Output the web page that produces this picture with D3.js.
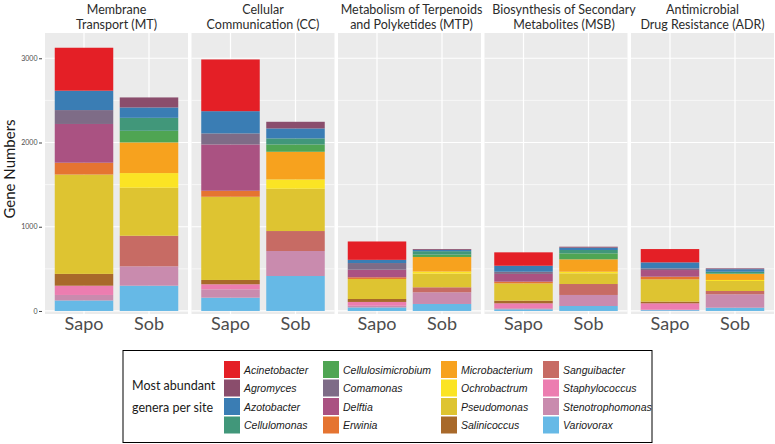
<!DOCTYPE html>
<html>
<head>
  <meta charset="utf-8">
  <title>Gene Numbers by Function</title>
  <style>
    body { margin: 0; background: #fff; }
    svg text { font-family: Lato, "Liberation Sans", sans-serif; }
    .strip { font-size: 12.5px; fill: #2b2b2b; }
    .site { font-size: 18px; fill: #4d4d4d; }
    .ytick text { font-size: 7px; fill: #4d4d4d; }
    .leg-lab { font-family: "Liberation Sans", Arial, sans-serif !important; font-style: italic; font-size: 10.5px; fill: #1a1a1a; }
  </style>
</head>
<body>
<svg id="chart" width="775" height="444"></svg>

<script src="https://cdn.jsdelivr.net/npm/d3@7"></script>
<script>
  // genera, in legend order (first one is drawn on top of the stack)
  var genera = ['Acinetobacter', 'Agromyces', 'Azotobacter', 'Cellulomonas',
    'Cellulosimicrobium', 'Comamonas', 'Delftia', 'Erwinia', 'Microbacterium',
    'Ochrobactrum', 'Pseudomonas', 'Salinicoccus', 'Sanguibacter',
    'Staphylococcus', 'Stenotrophomonas', 'Variovorax'];
  var legendLabels = ['Acinetobacter', 'Agromyces', 'Azotobacter', 'Cellulomonas',
    'Cellulosimicrobium', 'Comamonas', 'Delftia', 'Erwinia', 'Microbacterium',
    'Ochrobactrum', 'Pseudomonas', 'Salinicoccus', 'Sanguibacter',
    'Staphylococcus', 'Stenotrophomonas', 'Variovorax'];
  var colors = ['#e41f26', '#8a4d6c', '#3a7db4', '#41977a', '#4fa553', '#7e6c87',
    '#aa5282', '#e57431', '#f7a21e', '#fbe424', '#dec431', '#a8692a', '#c76b64',
    '#ec7db0', '#c98bae', '#66b9e6'];

  var sites = ['Sapo', 'Sob'];
  var panelTitles = [
    ['Membrane', 'Transport (MT)'],
    ['Cellular', 'Communication (CC)'],
    ['Metabolism of Terpenoids', 'and Polyketides (MTP)'],
    ['Biosynthesis of Secondary', 'Metabolites (MSB)'],
    ['Antimicrobial', 'Drug Resistance (ADR)']
  ];
  var yTicks = [0, 1000, 2000, 3000];

  // gene numbers per genus (same order as genera), one array per panel and site
  //            Aci  Agr  Azo  Cem  Csm  Com  Del  Erw  Mic  Och  Pse   Sal  San  Sta  Ste  Var
  var mtSapo  = [510,   0, 230,   0,   0, 165, 460, 140,   0,   0, 1180, 140,   0, 110,  65, 125];
  var mtSob   = [  0, 119, 123, 154, 138,   0,   0,   0, 364, 174,  570,   0, 363,   0, 230, 300];
  var ccSapo  = [614,   0, 264,   0,   0, 131, 550,  71,   0,   0,  988,  51,   0,  60,  99, 158];
  var ccSob   = [  0,  79, 118,  72,  87,   0,   0,   0, 328, 111,  502,   0, 237,   0, 297, 415];
  var mtpSapo = [218,   0,  38,   0,   0,  79,  90,  20,   0,   0,  238,  35,   0,  45,  20,  42];
  var mtpSob  = [  0,  10,  15,  40,  29,   0,   0,   0, 173,  25,  162,   0,  59,   0, 139,  83];
  var msbSapo = [159,   0,  71,   0,   0,  26,  92,  20,   0,   0,  206,  31,   0,  59,  12,  20];
  var msbSob  = [  0,  12,  27,  40,  71,   0,   0,   0, 147,  19,  127,   0, 130,   0, 131,  59];
  var adrSapo = [158,   0,  71,   0,   0,  20,  79,  31,   0,   0,  265,  20,   0,  76,   5,  10];
  var adrSob  = [  0,  10,  30,  20,   7,   0,   0,   0,  71,  12,  119,   0,  39,   0, 159,  39];

  var panelValues = [
    [mtSapo, mtSob], [ccSapo, ccSob], [mtpSapo, mtpSob],
    [msbSapo, msbSob], [adrSapo, adrSob]
  ];

  var svg = d3.select('#chart');

  var plotLeft = 45, plotRight = 774, panelGap = 3.5;
  var plotTop = 33, plotBottom = 314;
  var panelW = (plotRight - plotLeft - panelGap * 4) / 5;
  var titleShift = [0, 0, 2, 8, 0];

  var y = d3.scaleLinear().domain([-36, 3300]).range([plotBottom, plotTop]);
  var x = d3.scaleBand().domain(sites).range([0, panelW])
    .paddingInner(0.1).paddingOuter(0.15);
  var color = d3.scaleOrdinal().domain(genera).range(colors);

  // bottom of the stack is the last genus
  var stack = d3.stack().keys(genera.slice().reverse());

  panelTitles.forEach(function(title, p) {
    var g = svg.append('g')
      .attr('transform', 'translate(' + (plotLeft + p * (panelW + panelGap)) + ',0)');

    g.append('rect')
      .attr('x', 0).attr('y', plotTop)
      .attr('width', panelW).attr('height', plotBottom - plotTop)
      .attr('fill', '#ebebeb');

    // minor and major grid
    g.selectAll('.minor').data([500, 1500, 2500]).enter().append('line')
      .attr('x1', 0).attr('x2', panelW)
      .attr('y1', function(d) { return y(d); }).attr('y2', function(d) { return y(d); })
      .attr('stroke', '#fff').attr('stroke-width', 0.6);
    g.selectAll('.major').data(yTicks).enter().append('line')
      .attr('x1', 0).attr('x2', panelW)
      .attr('y1', function(d) { return y(d); }).attr('y2', function(d) { return y(d); })
      .attr('stroke', '#fff').attr('stroke-width', 1.2);
    g.selectAll('.vmajor').data(sites).enter().append('line')
      .attr('x1', function(d) { return x(d) + x.bandwidth() / 2; })
      .attr('x2', function(d) { return x(d) + x.bandwidth() / 2; })
      .attr('y1', plotTop).attr('y2', plotBottom)
      .attr('stroke', '#fff').attr('stroke-width', 1.2);

    var rows = sites.map(function(s, i) {
      var row = { site: s };
      genera.forEach(function(k, j) { row[k] = panelValues[p][i][j]; });
      return row;
    });
    var series = stack(rows);

    g.selectAll('.layer').data(series).enter().append('g')
      .attr('fill', function(d) { return color(d.key); })
      .selectAll('rect').data(function(d) { return d; }).enter().append('rect')
        .attr('x', function(d) { return x(d.data.site); })
        .attr('width', x.bandwidth())
        .attr('y', function(d) { return y(d[1]); })
        .attr('height', function(d) { return y(d[0]) - y(d[1]); });

    // strip titles
    title.forEach(function(line, li) {
      g.append('text').attr('class', 'strip')
        .attr('x', panelW / 2 + titleShift[p]).attr('y', 14 + li * 14.5)
        .attr('text-anchor', 'middle')
        .text(line);
    });

    // site labels
    g.selectAll('.site').data(sites).enter().append('text')
      .attr('class', 'site')
      .attr('x', function(d) { return x(d) + x.bandwidth() / 2; })
      .attr('y', 330)
      .attr('text-anchor', 'middle')
      .text(function(d) { return d; });
  });

  // y axis
  var yAxis = d3.axisLeft(y).tickValues(yTicks).tickFormat(d3.format('d'))
    .tickSize(3).tickPadding(1.5);
  var ya = svg.append('g').attr('class', 'ytick')
    .attr('transform', 'translate(42,0)')
    .call(yAxis);
  ya.select('.domain').remove();
  ya.selectAll('line').attr('stroke', '#444');

  svg.append('text')
    .attr('transform', 'translate(15,169) rotate(-90)')
    .attr('text-anchor', 'middle')
    .style('font-size', '15px').style('fill', '#1a1a1a')
    .text('Gene Numbers');

  // legend
  var leg = svg.append('g');
  leg.append('rect')
    .attr('x', 123).attr('y', 350.5).attr('width', 529).attr('height', 92)
    .attr('fill', '#fff').attr('stroke', '#000').attr('stroke-width', 1);
  leg.append('text').attr('x', 132).attr('y', 390)
    .style('font-size', '12.5px').style('fill', '#1a1a1a').text('Most abundant');
  leg.append('text').attr('x', 132).attr('y', 412)
    .style('font-size', '12.5px').style('fill', '#1a1a1a').text('genera per site');

  var colX = [224, 323, 441, 543];
  var items = leg.selectAll('.item').data(genera).enter().append('g')
    .attr('transform', function(d, i) {
      return 'translate(' + colX[Math.floor(i / 4)] + ',' + (361 + (i % 4) * 18.5) + ')';
    });
  items.append('rect')
    .attr('width', 16).attr('height', 17)
    .attr('fill', function(d) { return color(d); });
  items.append('text').attr('class', 'leg-lab')
    .attr('x', 20).attr('y', 12.5)
    .text(function(d, i) { return legendLabels[i]; });
</script>
</body>
</html>
